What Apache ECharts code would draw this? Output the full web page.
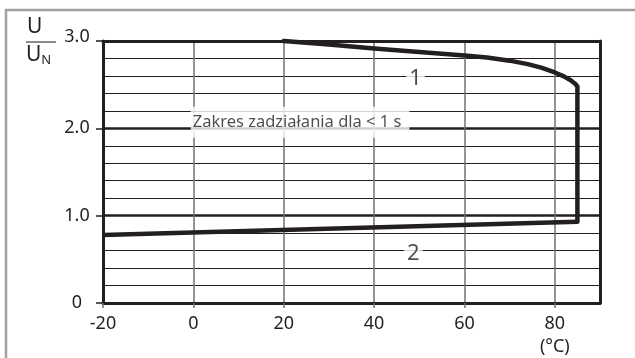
<!DOCTYPE html>
<html>
<head>
<meta charset="utf-8">
<script src="https://cdn.jsdelivr.net/npm/echarts@6/dist/echarts.min.js"></script>
<style>
html,body{margin:0;padding:0;background:#fff;}
#c{width:635px;height:358px;}
</style>
</head>
<body>
<div id="c"></div>
<script>
// ---- data ----
const curve1X = [20, 30, 40, 50, 60, 65, 70, 74, 77, 80, 82, 83.5, 84.5, 85, 85];
const curve1Y = [3.0, 2.96, 2.915, 2.875, 2.835, 2.81, 2.775, 2.735, 2.695, 2.64, 2.595, 2.55, 2.51, 2.48, 0.93];
const curve2X = [-20, 85];
const curve2Y = [0.78, 0.93];
const curveLabelText = ['1', '2'];
const curveLabelX = [49.2, 48.7];
const curveLabelY = [2.57, 0.56];
const rangeText = 'Zakres zadziałania dla < 1 s';
const rangeX = -0.7;
const rangeY = 2.07;
const xTickValues = [-20, 0, 20, 40, 60, 80];
const xUnit = '(°C)';
const yTickValues = [0, 1, 2, 3];
const yTickLabels = ['0', '1.0', '2.0', '3.0'];

const INK = '#231f20';
const GRAY = '#707070';
const FONT = 'Noto Sans';

const chart = echarts.init(document.getElementById('c'), null, {renderer: 'canvas'});

const zip = (xs, ys) => xs.map((x, i) => [x, ys[i]]);

chart.setOption({
  animation: false,
  backgroundColor: '#fff',
  textStyle: {fontFamily: FONT},
  grid: {left: 103, right: 35, top: 41, bottom: 54, containLabel: false},
  xAxis: [{
    type: 'value', position: 'bottom', min: -20, max: 90, interval: 10,
    axisLine: {show: true, onZero: false, lineStyle: {color: INK, width: 3}},
    axisTick: {show: true, customValues: xTickValues, length: 5, lineStyle: {color: GRAY, width: 1.5}},
    axisLabel: {
      show: true, customValues: xTickValues, margin: 9,
      color: INK, fontSize: 18, fontFamily: FONT, lineHeight: 23,
      formatter: v => (v === 80 ? '80\n' + xUnit : String(v))
    },
    splitLine: {show: true, lineStyle: {color: GRAY, width: 1.5}}
  }, {
    type: 'value', position: 'top', min: -20, max: 90, interval: 10,
    axisLine: {show: true, onZero: false, lineStyle: {color: INK, width: 3}},
    axisTick: {show: false}, axisLabel: {show: false}, splitLine: {show: false}
  }],
  yAxis: [{
    type: 'value', position: 'left', min: 0, max: 3, interval: 1,
    axisLine: {show: true, onZero: false, lineStyle: {color: INK, width: 3}},
    axisTick: {show: true, length: 7, lineStyle: {color: INK, width: 1.5}},
    minorTick: {show: false, splitNumber: 5},
    minorSplitLine: {show: true, lineStyle: {color: INK, width: 1}},
    splitLine: {show: true, lineStyle: {color: INK, width: 2.5}},
    axisLabel: {
      show: true, margin: 26, align: 'center', color: INK, fontSize: 18, fontFamily: FONT,
      formatter: v => {
        const i = yTickValues.indexOf(Math.round(v * 1000) / 1000);
        if (i < 0) return '';
        return i === 3 ? '{t|' + yTickLabels[i] + '}' : yTickLabels[i];
      },
      rich: {t: {fontSize: 18, fontFamily: FONT, color: INK, padding: [0, 0, 9, 0]}}
    }
  }, {
    type: 'value', position: 'right', min: 0, max: 3, interval: 1,
    axisLine: {show: true, onZero: false, lineStyle: {color: INK, width: 3}},
    axisTick: {show: false}, axisLabel: {show: false}, splitLine: {show: false}
  }],
  graphic: [
    {type: 'rect', z: -10, silent: true,
     shape: {x: 6, y: 10, width: 800, height: 600},
     style: {fill: 'none', stroke: '#a0a0a0', lineWidth: 2.5}},
    {type: 'text', left: 27, top: 17, style: {text: 'U', font: '21px "Noto Sans"', fill: INK}},
    {type: 'line', shape: {x1: 26, y1: 42, x2: 56, y2: 42}, style: {stroke: '#666', lineWidth: 1.5}},
    {type: 'text', left: 26, top: 45, style: {text: 'U{s|N}', font: '21px "Noto Sans"', fill: INK,
      rich: {s: {fontSize: 13, fontFamily: FONT, fill: INK, padding: [10, 0, 0, 0]}}}}
  ],
  series: [{
    type: 'line', name: '1', data: zip(curve1X, curve1Y), showSymbol: false, symbol: 'none',
    clip: false, z: 5,
    lineStyle: {color: INK, width: 4.5, join: 'round', cap: 'round'}
  }, {
    type: 'line', name: '2', data: zip(curve2X, curve2Y), showSymbol: false, symbol: 'none',
    clip: false, z: 5,
    lineStyle: {color: INK, width: 4.5, join: 'round'}
  }, {
    type: 'scatter', z: 10, symbolSize: 1, itemStyle: {color: 'rgba(0,0,0,0)'},
    data: curveLabelText.map((t, i) => ({value: [curveLabelX[i], curveLabelY[i]], name: t})),
    label: {show: true, position: 'inside', formatter: p => p.name, color: INK,
      fontSize: 22, fontFamily: FONT, backgroundColor: '#fff', padding: [1, 3, 1, 3]}
  }, {
    type: 'scatter', z: 10, symbolSize: 1, itemStyle: {color: 'rgba(0,0,0,0)'},
    data: [{value: [rangeX, rangeY], name: rangeText}],
    label: {show: true, position: 'right', distance: 0, formatter: p => p.name, color: INK,
      fontSize: 16.5, fontFamily: FONT, backgroundColor: '#fff', padding: [7, 8, 7, 2]}
  }]
});
</script>
</body>
</html>
